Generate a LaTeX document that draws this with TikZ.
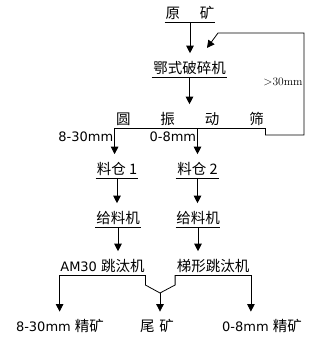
\documentclass[tikz,border=0pt]{standalone}
\usepackage{fontspec}
\newfontfamily\cjk{Noto Sans CJK SC}
\newfontfamily\dv{DejaVu Sans}
\usetikzlibrary{arrows.meta}

\begin{document}
\begin{tikzpicture}[x=1pt,y=-1pt,line width=0.8pt,
  lbl/.style={font=\cjk\fontsize{14.5}{16}\selectfont},
  stage/.style={lbl,anchor=south,inner xsep=0pt,inner ysep=1.5pt,
    text height=11pt,text depth=2pt,minimum width=#1},
  prod/.style={lbl,inner sep=1.5pt,text height=11pt,text depth=2pt},
  size/.style={font=\dv\fontsize{13}{15}\selectfont,inner xsep=1pt,inner ysep=3pt},
  tip/.style={-{Triangle[length=7.5pt,width=7.5pt]}},
  arr/.style={tip,shorten >=7pt},
]
\useasboundingbox (0,0) rectangle (324,348);

% ------------------------------------------------------------
% crushing and screening
% ------------------------------------------------------------
\node[stage=50] (raw) at (190,22) {原\hspace{20pt}矿};
\node[stage=75] (crush) at (189.5,77) {鄂式破碎机};
\node[stage=150] (screen) at (190,128)
  {圆\hspace{30pt}振\hspace{30pt}动\hspace{30pt}筛};

\draw[arr] (raw.south) -- (raw.south |- crush.north);
\draw[arr] (crush.south) -- (crush.south |- screen.north);

% oversize back to the crusher
\coordinate (fbR) at (304,33);
\coordinate (fbL) at (218,33);
\coordinate (fbTip) at (207,48);
\draw[tip] (screen.south east) -- ++(0,7) -| (fbR) -- (fbL) -- (fbTip);
\node[font=\fontsize{11.5}{13}\selectfont] (over) at (283,82) {$>$30mm};

% ------------------------------------------------------------
% two lines: bins, feeders, jigs
% ------------------------------------------------------------
\node[stage=42] (bin1) at (117,178) {料仓 1};
\node[stage=43] (bin2) at (197.5,178) {料仓 2};
\node[stage=45] (feed1) at (118,227) {给料机};
\node[stage=44] (feed2) at (198,227) {给料机};
\node[stage=85] (jig1) at (102.5,275) {{\dv\fontsize{13}{15}\selectfont AM30 }跳汰机};
\node[stage=75] (jig2) at (213,275) {梯形跳汰机};

\draw[arr] (screen.south west) -- (screen.south west |- bin1.north);
\draw[arr] (bin2.north |- screen.south) -- (bin2.north);
\node[size,anchor=north east] (sz1) at (screen.south west) {8-30mm};
\node[size,anchor=north east] (sz2) at (bin2.north |- screen.south) {0-8mm};

\draw[arr] (bin1.south) -- (bin1.south |- feed1.north);
\draw[arr] (bin2.south) -- (bin2.south |- feed2.north);
\draw[arr] (feed1.south) -- (feed1.south |- jig1.north);
\draw[arr] (feed2.south) -- (feed2.south |- jig2.north);

% underlines
\foreach \n in {raw,crush,screen,bin1,bin2,feed1,feed2,jig1,jig2}
  \draw (\n.south west) -- (\n.south east);

% ------------------------------------------------------------
% products
% ------------------------------------------------------------
\node[prod] (conc1) at (60,327) {{\dv\fontsize{13}{15}\selectfont 8-30mm }精矿};
\node[prod] (tail) at (157,327) {尾\hspace{5pt}矿};
\node[prod] (conc2) at (262,327) {{\dv\fontsize{13}{15}\selectfont 0-8mm }精矿};

\coordinate (join) at (160,293);
\draw (jig1.south east) -- ++(0,10) -- (join);
\draw (jig2.south west) -- ++(0,10) -- (join);
\draw[arr] (join) -- (join |- tail.north);
\draw[arr] (jig1.south west) -- (jig1.south west |- conc1.north);
\draw[arr] (jig2.south east) -- (jig2.south east |- conc2.north);
\end{tikzpicture}
\end{document}
